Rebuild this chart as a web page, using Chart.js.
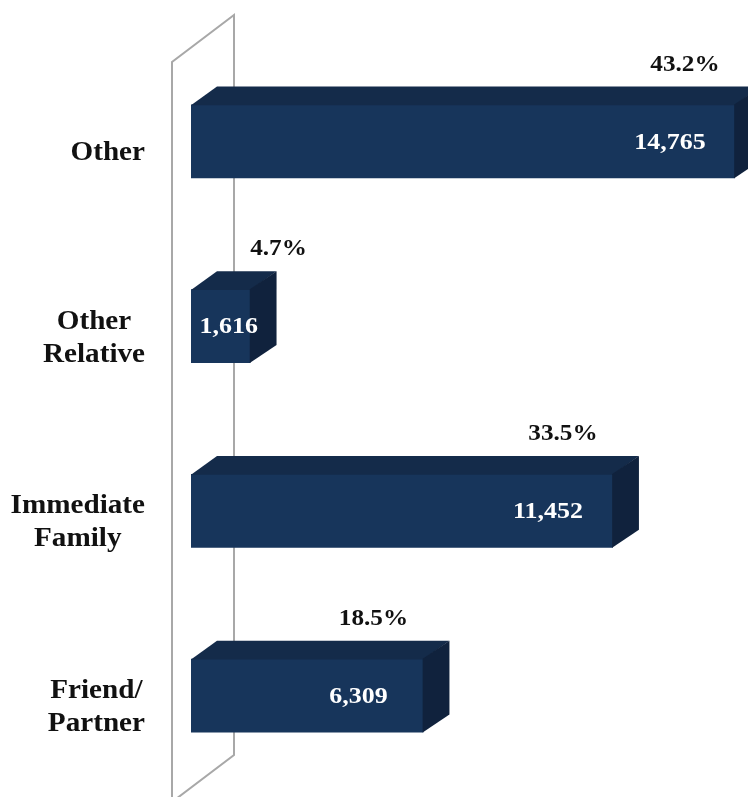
<!DOCTYPE html>
<html>
<head>
<meta charset="utf-8">
<script src="https://cdn.jsdelivr.net/npm/chart.js@4/dist/chart.umd.min.js"></script>
<style>
  html, body { margin: 0; padding: 0; background: #fff; }
  #wrap { width: 748px; height: 797px; }
</style>
</head>
<body>
<div id="wrap"><canvas id="chart"></canvas></div>
<script>
const categories = [['Other'], ['Other', 'Relative'], ['Immediate', 'Family'], ['Friend/', 'Partner']];
const counts = [14765, 1616, 11452, 6309];
const percents = [43.2, 4.7, 33.5, 18.5];

const FRONT = '#17355b';
const TOP = '#142b4a';
const SIDE = '#10223d';
const DX = 26, DY = 18;
const SERIF = '"Liberation Serif", "Times New Roman", serif';

// the original font is wider than Times, so stretch text a bit
function wideText(ctx, txt, x, y, sx) {
  ctx.save();
  ctx.translate(x, y);
  ctx.scale(sx, 1);
  ctx.fillText(txt, 0, 0);
  ctx.restore();
}

// wall, 3D faces and all the text
const boxPlugin = {
  id: 'box3d',
  beforeDatasetsDraw(chart) {
    const { ctx, chartArea: a } = chart;
    const fx = a.left - 19, bx = a.left + 43;
    ctx.save();
    ctx.strokeStyle = '#a8a8a8';
    ctx.lineWidth = 2;
    ctx.beginPath();
    ctx.moveTo(fx, chart.height + 5);
    ctx.lineTo(fx, a.top + 13);
    ctx.lineTo(bx, a.top - 34);
    ctx.lineTo(bx, a.bottom - 33);
    ctx.lineTo(fx, a.bottom + 14);
    ctx.stroke();
    ctx.restore();
  },
  afterDatasetsDraw(chart) {
    const { ctx } = chart;
    const meta = chart.getDatasetMeta(0);
    const yScale = chart.scales.y;
    ctx.save();
    meta.data.forEach((bar, i) => {
      const x0 = bar.base, x1 = bar.x;
      const h = bar.height;
      const yT = bar.y - h / 2, yB = bar.y + h / 2;

      ctx.fillStyle = TOP;
      ctx.beginPath();
      ctx.moveTo(x0, yT + 0.8);
      ctx.lineTo(x0 + DX, yT - DY);
      ctx.lineTo(x1 + DX, yT - DY);
      ctx.lineTo(x1, yT + 0.8);
      ctx.closePath();
      ctx.fill();

      ctx.fillStyle = SIDE;
      ctx.beginPath();
      ctx.moveTo(x1 - 0.8, yT);
      ctx.lineTo(x1 + DX, yT - DY);
      ctx.lineTo(x1 + DX, yB - DY);
      ctx.lineTo(x1 - 0.8, yB);
      ctx.closePath();
      ctx.fill();

      const narrow = (x1 - x0) < 100;

      // count inside the bar
      ctx.fillStyle = '#ffffff';
      ctx.font = 'bold 24px ' + SERIF;
      ctx.textAlign = 'center';
      ctx.textBaseline = 'middle';
      const vx = narrow ? (x0 + x1) / 2 + 8 : x1 - 65;
      wideText(ctx, counts[i].toLocaleString('en-US'), vx, bar.y + 1, 1.08);

      // percent above the bar
      ctx.fillStyle = '#111111';
      const px = narrow ? x1 + 28 : x1 - 50;
      wideText(ctx, percents[i].toFixed(1) + '%', px, yT - DY - 22, 1.05);

      // category label, lines centred inside a right-aligned block
      const sx = 1.08;
      ctx.font = 'bold 27px ' + SERIF;
      const lines = categories[i];
      const w = Math.max(...lines.map(l => ctx.measureText(l).width)) * sx;
      const cx = x0 - 46 - w / 2;
      const lh = 33;
      const cy = yScale.getPixelForTick(i) + 12;
      lines.forEach((l, k) => {
        wideText(ctx, l, cx, cy + (k - (lines.length - 1) / 2) * lh, sx);
      });
    });
    ctx.restore();
  }
};

new Chart(document.getElementById('chart'), {
  type: 'bar',
  data: {
    labels: categories,
    datasets: [{
      data: counts,
      backgroundColor: FRONT,
      borderWidth: 0,
      categoryPercentage: 1,
      barPercentage: 0.4
    }]
  },
  options: {
    indexAxis: 'y',
    responsive: true,
    maintainAspectRatio: false,
    animation: false,
    layout: { padding: { left: 191, right: 13, top: 49, bottom: 9 } },
    scales: {
      x: { display: false, min: 0, max: Math.max(...counts) },
      y: { display: false }
    },
    plugins: {
      legend: { display: false },
      tooltip: { enabled: false }
    }
  },
  plugins: [boxPlugin]
});
</script>
</body>
</html>
